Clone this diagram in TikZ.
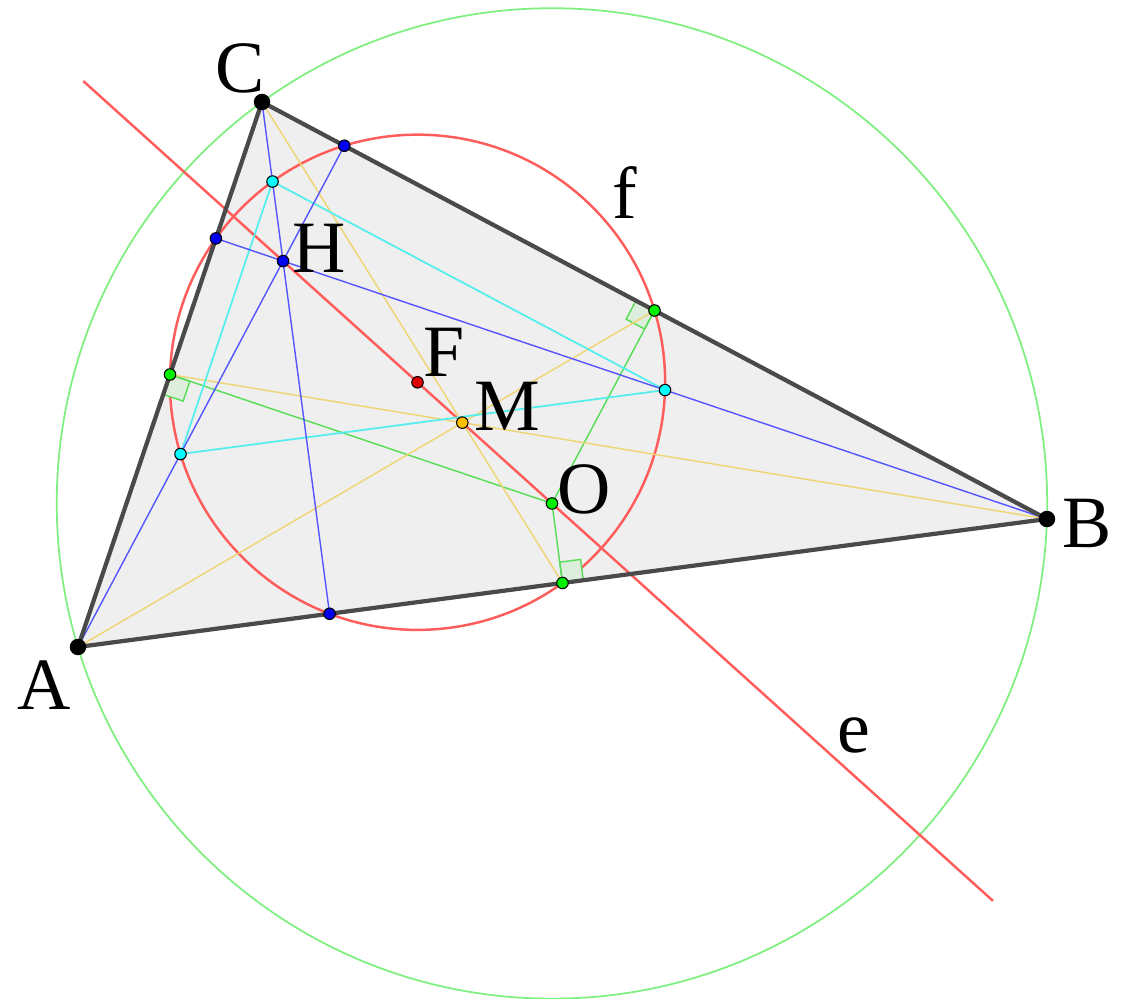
\documentclass[tikz,border=0pt]{standalone}
\usepackage{fontspec}
\setmainfont{Liberation Serif}
\usetikzlibrary{calc,positioning}
\definecolor{NPRed}{HTML}{FF5C5C}
\definecolor{CCGreen}{HTML}{7FEF7F}
\definecolor{PerpGreen}{HTML}{55DD55}
\definecolor{PerpFill}{HTML}{DDEEDD}
\definecolor{AltBlue}{HTML}{5555FF}
\definecolor{MidCyan}{HTML}{55EEEE}
\definecolor{MedYellow}{HTML}{F0D470}
\definecolor{TriGray}{HTML}{EFEFEF}
\definecolor{EdgeGray}{HTML}{4A4A4A}
\definecolor{PtOrange}{HTML}{FFC000}
\definecolor{PtCyan}{HTML}{00FFFF}
\definecolor{PtGreen}{HTML}{00EE00}
\definecolor{PtBlue}{HTML}{0000EE}
\definecolor{PtRed}{HTML}{DD0000}
\tikzset{
triedge/.style={draw=EdgeGray, line width=1.2pt, line join=round},
trifill/.style={fill=TriGray},
eulerline/.style={draw=NPRed, line width=0.7pt},
npcircle/.style={draw=NPRed, line width=0.7pt},
cccircle/.style={draw=CCGreen, line width=0.5pt},
altitude/.style={draw=AltBlue, line width=0.4pt},
median/.style={draw=MedYellow, line width=0.4pt},
bisector/.style={draw=PerpGreen, line width=0.4pt},
midtri/.style={draw=MidCyan, line width=0.5pt},
perpbox/.style={draw=PerpGreen, fill=PerpFill, line width=0.4pt},
bigpt/.style={circle, draw=black, fill=black, inner sep=0pt, minimum size=1.5mm},
smallpt/.style={circle, draw=black, line width=0.3pt, inner sep=0pt, minimum size=1.15mm},
lbl/.style={font=\fontsize{21}{24}\selectfont, inner sep=0pt}
}
\newcommand{\perpmark}[3]{%
\draw[perpbox] (#1) -- ($(#1)!0.21cm!(#2)$)
  -- ($($(#1)!0.21cm!(#2)$)+($(#1)!0.21cm!(#3)$)-(#1)$)
  -- ($(#1)!0.21cm!(#3)$) -- cycle;}

\begin{document}
\begin{tikzpicture}[x=1cm, y=-1cm]
\useasboundingbox (0,0) rectangle (11.25,9.99);

% vertices
\coordinate (A) at (0.78,6.47);
\coordinate (B) at (10.47,5.19);
\coordinate (C) at (2.62,1.02);

% feet of the altitudes, orthocentre
\coordinate (Ha) at ($(B)!(A)!(C)$);
\coordinate (Hb) at ($(C)!(B)!(A)$);
\coordinate (Hc) at ($(A)!(C)!(B)$);
\coordinate (H) at (intersection of A--Ha and B--Hb);

% circumcentre, centroid, nine-point centre
\coordinate (O) at ($0.5*(A)+0.5*(B)+0.5*(C)-0.5*(H)$);
\coordinate (M) at ($0.33333*(A)+0.33333*(B)+0.33333*(C)$);
\coordinate (F) at ($(H)!0.5!(O)$);

% midpoints of the sides
\coordinate (Ma) at ($(B)!0.5!(C)$);
\coordinate (Mb) at ($(C)!0.5!(A)$);
\coordinate (Mc) at ($(A)!0.5!(B)$);

% midpoints towards H
\coordinate (Pa) at ($(A)!0.5!(H)$);
\coordinate (Pb) at ($(B)!0.5!(H)$);
\coordinate (Pc) at ($(C)!0.5!(H)$);

% ends of the Euler line
\coordinate (e1) at ($(H)!-0.743!(O)$);
\coordinate (e2) at ($(H)!2.64!(O)$);

\fill[trifill] (A) -- (B) -- (C) -- cycle;

\draw[cccircle] let \p1 = ($(A)-(O)$), \n1 = {veclen(\x1,\y1)} in (O) circle (\n1);
\draw[npcircle] let \p1 = ($(A)-(O)$), \n1 = {veclen(\x1,\y1)/2} in (F) circle (\n1);
\draw[eulerline] (e1) -- (e2);

\perpmark{Ma}{C}{O}
\perpmark{Mb}{A}{O}
\perpmark{Mc}{B}{O}

\foreach \p in {Ma,Mb,Mc}
  \draw[bisector] (O) -- (\p);
\foreach \a/\b in {A/Ma,B/Mb,C/Mc}
  \draw[median] (\a) -- (\b);
\draw[midtri] (Pa) -- (Pb) -- (Pc) -- cycle;
\foreach \a/\b in {A/Ha,B/Hb,C/Hc}
  \draw[altitude] (\a) -- (\b);

\draw[triedge] (A) -- (B) -- (C) -- cycle;

% points
\foreach \p in {A,B,C}
  \node[bigpt] (n\p) at (\p) {};
\foreach \p in {Ha,Hb,Hc,H}
  \node[smallpt, fill=PtBlue] (n\p) at (\p) {};
\foreach \p in {Pa,Pb,Pc}
  \node[smallpt, fill=PtCyan] (n\p) at (\p) {};
\foreach \p in {Ma,Mb,Mc,O}
  \node[smallpt, fill=PtGreen] (n\p) at (\p) {};
\node[smallpt, fill=PtRed] (nF) at (F) {};
\node[smallpt, fill=PtOrange] (nM) at (M) {};

% labels
\node[lbl] (lC) at (2.40,0.68) {C};
\node[lbl] (lA) at (0.44,6.85) {A};
\node[lbl] (lB) at (10.87,5.23) {B};
\node[lbl] (lH) at (3.19,2.48) {H};
\node[lbl] (lF) at (4.44,3.52) {F};
\node[lbl] (lM) at (5.07,4.06) {M};
\node[lbl] (lO) at (5.84,4.89) {O};
\node[lbl] (lf) at (6.25,1.93) {f};
\node[lbl] (le) at (8.54,7.35) {e};
\end{tikzpicture}
\end{document}
